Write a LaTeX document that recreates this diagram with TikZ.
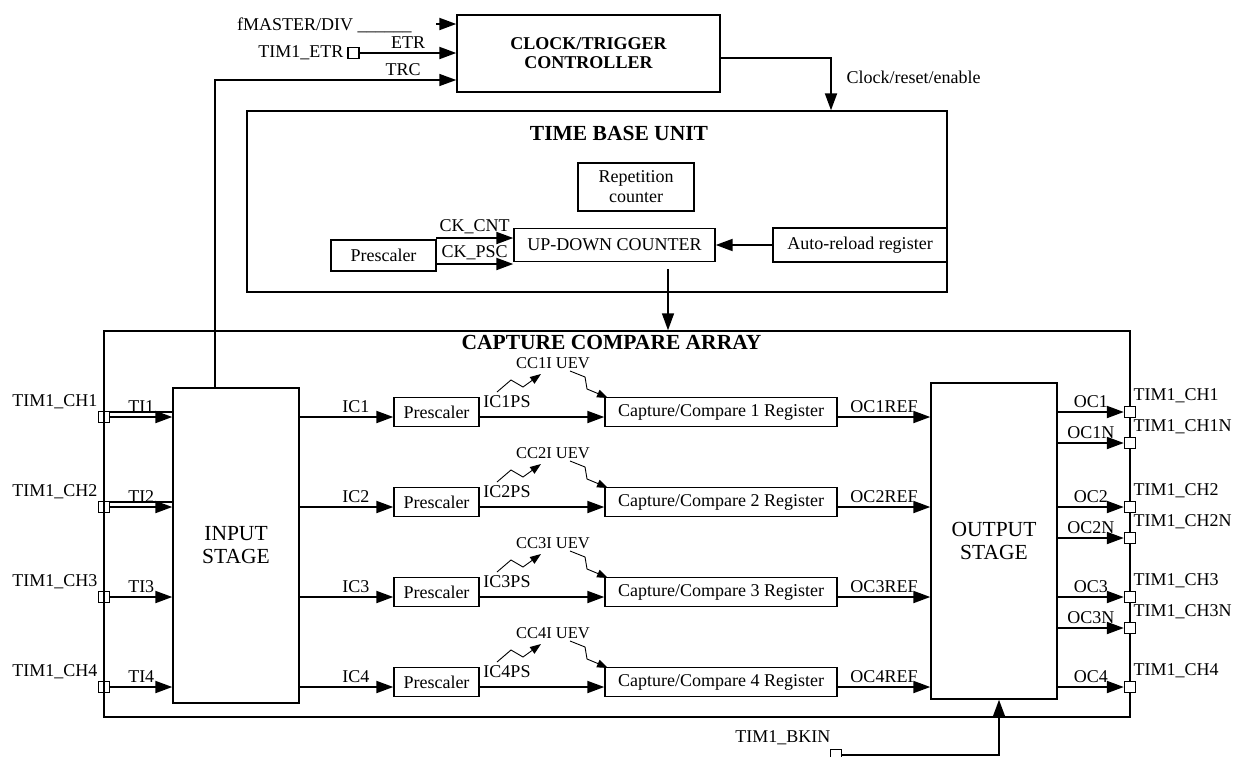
\documentclass[tikz,border=0pt]{standalone}
\usepackage{fontspec}
\setmainfont{Liberation Serif}
\usetikzlibrary{arrows.meta,calc}

\tikzset{
  blk/.style={draw, line width=1.4pt, inner sep=2pt},
  pad/.style={draw, line width=1.4pt, minimum size=11pt, inner sep=0pt},
  sig/.style={line width=2pt, -{Triangle[length=17pt,width=12pt]}},
  wire/.style={line width=1.5pt},
  zig/.style={line width=0.9pt, -{Triangle[length=11pt,width=8pt]}},
  ttl/.style={font=\fontsize{21.5}{24}\selectfont\bfseries},
  stg/.style={blk, minimum width=126pt, align=center, font=\fontsize{21.5}{23}\selectfont},
}

\begin{document}
\begin{tikzpicture}[x=1pt, y=-1pt, font=\fontsize{18}{20}\selectfont]
    \useasboundingbox (0,0) rectangle (1235,756);

    % clock / trigger controller
    \node[blk, minimum width=263pt, minimum height=77pt, align=center,
          font=\fontsize{18}{19}\selectfont\bfseries] (ctrl) at (588.5,53.5) {CLOCK/TRIGGER\\CONTROLLER};
    \node[anchor=base west, inner sep=0pt] (fm) at (237,30) {fMASTER/DIV \_\_\_\_\_\_};
    \node[pad] (etr) at (353.5,53) {};
    \node[anchor=east] (etrl) at (347,53) {TIM1\_ETR};

    % time base unit
    \node[blk, minimum width=700pt, minimum height=181pt] (tbu) at (597,201.5) {};
    \node[ttl] (tbut) at (619,133) {TIME BASE UNIT};
    \node[blk, minimum width=116pt, minimum height=48pt, align=center] (rep) at (636,187) {Repetition\\counter};
    \node[blk, minimum width=201pt, minimum height=33pt] (cnt) at (614.5,245) {UP-DOWN COUNTER};
    \node[blk, minimum width=105pt, minimum height=31pt] (tpsc) at (383.5,255.5) {Prescaler};
    \node[blk, minimum width=174pt, minimum height=34pt] (arr) at (860,245) {Auto-reload register};

    % capture compare array
    \node[blk, minimum width=1026pt, minimum height=386pt] (cca) at (617,524) {};
    \node[ttl] (ccat) at (611.5,342) {CAPTURE COMPARE ARRAY};
    \node[stg, minimum height=315pt] (inst) at (236,545.5) {INPUT\\STAGE};
    \node[stg, minimum height=316pt] (outst) at (994,541) {OUTPUT\\STAGE};

    % controller inputs and outputs
    \coordinate (fmt) at (436,24);
    \draw[sig] (fmt) -- (ctrl.west |- fmt);
    \draw[sig] (etr) -- node[above] (etrn) {ETR} (ctrl.west |- etr);
    \coordinate (trc) at (215,80);
    \draw[sig, line width=1.5pt] (inst.north -| trc) -- (trc) -- node[pos=0.78, above] (trcn) {TRC} (ctrl.west |- trc);
    \coordinate (cre) at (831,58);
    \draw[sig] (ctrl.east |- cre) -- (cre) -- (tbu.north -| cre);
    \node[anchor=west] (cren) at (843,77) {Clock/reset/enable};

    \coordinate (ckc) at (436,238);
    \coordinate (ckp) at (436,264);
    \draw[sig] (ckc) -- node[above] (ckcn) {CK\_CNT} (cnt.west |- ckc);
    \draw[sig] (ckp) -- node[above] (ckpn) {CK\_PSC} (cnt.west |- ckp);
    \draw[sig] (arr) -- (cnt);
    \coordinate (cdn) at (668,269);
    \draw[sig, line width=1.5pt] (cdn) -- (cca.north -| cdn);

    % four channels
    \foreach \i/\y in {1/417,2/507,3/597,4/687}{
      \coordinate (c\i) at (0,\y);
      \node[pad] (in\i) at (104,\y) {};
      \node[anchor=east] (inl\i) at (101,\y-15) {TIM1\_CH\i};
      \node[blk, minimum width=85pt, minimum height=29pt] (psc\i) at (436.5,\y-5) {Prescaler};
      \node[blk, minimum width=232pt, minimum height=29pt] (ccr\i) at (721,\y-5) {Capture/Compare \i\ Register};
      \node (ps\i) at (507,\y-15) {IC\i PS};
      \node[font=\fontsize{16.5}{18}\selectfont] (uev\i) at (553,\y-54) {CC\i I UEV};

      \ifnum\i<3
        \draw[wire] ($(in\i.east)+(0,-5)$) -- ($(inst.west |- c\i)+(0,-5)$);
      \fi
      \draw[sig] (in\i) -- node[above] (ti\i) {TI\i} (inst.west |- c\i);
      \draw[sig] (inst.east |- c\i) -- node[pos=0.6, above] (ic\i) {IC\i} (psc\i.west |- c\i);
      \draw[sig] (psc\i.east |- c\i) -- (ccr\i.west |- c\i);
      \draw[sig] (ccr\i.east |- c\i) -- node[above] (ref\i) {OC\i REF} (outst.west |- c\i);
      \draw[zig] ($(c\i)+(497,-25)$) -- ++(14,-12) -- ++(12,7) -- ++(18,-13);
      \draw[zig] ($(c\i)+(570,-46)$) -- ++(15,6) -- ++(2,12) -- ++(12,5) -- ++(9,4);
    }

    % output pins
    \foreach \k/\n/\y in {1/1/412,2/1N/443,3/2/507,4/2N/538,5/3/597,6/3N/628,7/4/687}{
      \node[pad, fill=white] (out\k) at (1130,\y) {};
      \node[anchor=west] (outl\k) at (1130,\y-16) {TIM1\_CH\n};
      \draw[sig] (outst.east |- out\k) -- node[above] (oc\k) {OC\n} (out\k.west);
    }

    % break input
    \node[pad] (bkin) at (836,755) {};
    \node[anchor=east] (bkinl) at (834,738) {TIM1\_BKIN};
    \coordinate (bk) at (999,755);
    \draw[sig] (bkin.east) -- (bk) -- (outst.south -| bk);
\end{tikzpicture}
\end{document}
